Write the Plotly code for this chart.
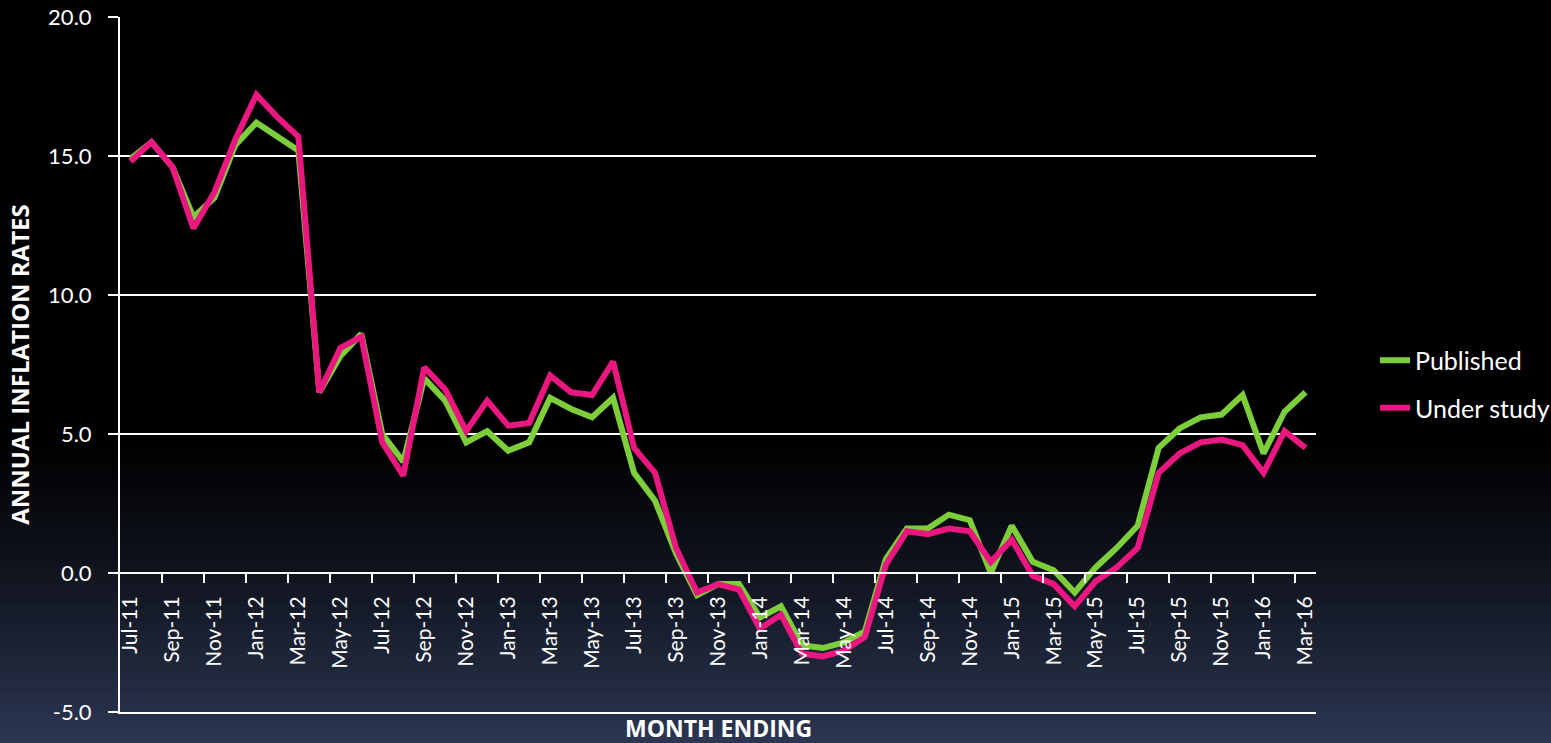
import plotly.graph_objects as go

# Month-ending labels, Jul-2011 .. Mar-2016
months = [
    "Jul-11", "Aug-11", "Sep-11", "Oct-11", "Nov-11", "Dec-11",
    "Jan-12", "Feb-12", "Mar-12", "Apr-12", "May-12", "Jun-12",
    "Jul-12", "Aug-12", "Sep-12", "Oct-12", "Nov-12", "Dec-12",
    "Jan-13", "Feb-13", "Mar-13", "Apr-13", "May-13", "Jun-13",
    "Jul-13", "Aug-13", "Sep-13", "Oct-13", "Nov-13", "Dec-13",
    "Jan-14", "Feb-14", "Mar-14", "Apr-14", "May-14", "Jun-14",
    "Jul-14", "Aug-14", "Sep-14", "Oct-14", "Nov-14", "Dec-14",
    "Jan-15", "Feb-15", "Mar-15", "Apr-15", "May-15", "Jun-15",
    "Jul-15", "Aug-15", "Sep-15", "Oct-15", "Nov-15", "Dec-15",
    "Jan-16", "Feb-16", "Mar-16",
]

published = [
    14.9, 15.5, 14.6, 12.8, 13.5, 15.4,
    16.2, 15.7, 15.2, 6.5, 7.8, 8.6,
    5.0, 4.0, 7.0, 6.2, 4.7, 5.1,
    4.4, 4.7, 6.3, 5.9, 5.6, 6.3,
    3.6, 2.6, 0.7, -0.8, -0.4, -0.4,
    -1.6, -1.2, -2.6, -2.7, -2.5, -2.1,
    0.5, 1.6, 1.6, 2.1, 1.9, 0.0,
    1.7, 0.4, 0.1, -0.7, 0.2, 0.9,
    1.7, 4.5, 5.2, 5.6, 5.7, 6.4,
    4.3, 5.8, 6.5,
]

under_study = [
    14.8, 15.5, 14.6, 12.4, 13.7, 15.6,
    17.2, 16.4, 15.7, 6.5, 8.1, 8.5,
    4.7, 3.5, 7.4, 6.6, 5.1, 6.2,
    5.3, 5.4, 7.1, 6.5, 6.4, 7.6,
    4.5, 3.6, 0.9, -0.7, -0.4, -0.6,
    -2.0, -1.5, -2.9, -3.0, -2.8, -2.3,
    0.3, 1.5, 1.4, 1.6, 1.5, 0.4,
    1.2, -0.1, -0.4, -1.2, -0.3, 0.2,
    0.9, 3.6, 4.3, 4.7, 4.8, 4.6,
    3.6, 5.1, 4.5,
]

y_ticks = [-5, 0, 5, 10, 15, 20]
y_tick_text = ["-5.0", "0.0", "5.0", "10.0", "15.0", "20.0"]

x_idx = list(range(len(months)))
label_idx = x_idx[::2]
label_text = months[::2]
boundary_ticks = [i + 1.5 for i in range(0, len(months) - 2, 2)]

Y_MIN, Y_MAX = -5, 20
W, H = 1551, 743
M_L, M_R, M_T, M_B = 120, 235, 17, 31
PW, PH = W - M_L - M_R, H - M_T - M_B

GREEN = "#7DCE3A"
PINK = "#E9177F"
FONT = "Lato"

fig = go.Figure()
fig.add_trace(go.Scatter(
    x=x_idx, y=published, mode="lines", name="Published",
    line=dict(color=GREEN, width=6), legendgroup="a",
))
fig.add_trace(go.Scatter(
    x=x_idx, y=under_study, mode="lines", name="Under study",
    line=dict(color=PINK, width=6), legendgroup="b",
))
# carrier trace so the month-label axis at y=0 gets built
fig.add_trace(go.Scatter(
    x=[x_idx[0], x_idx[-1]], y=[0, 0], xaxis="x2", mode="markers",
    marker=dict(opacity=0), showlegend=False, hoverinfo="skip",
))

# dark vertical gradient behind the whole figure
shapes = []
top_px, bot_px = 430, H
n = 64
c0 = (0, 0, 0)
c1 = (44, 55, 83)
for k in range(n):
    p0 = top_px + (bot_px - top_px) * k / n
    p1 = top_px + (bot_px - top_px) * (k + 1) / n + 0.6
    t = ((k + 0.5) / n) ** 1.25
    col = "rgb(%d,%d,%d)" % tuple(round(a + (b - a) * t) for a, b in zip(c0, c1))
    shapes.append(dict(
        type="rect", xref="paper", yref="paper", layer="below",
        x0=-M_L / PW, x1=(W - M_L) / PW,
        y0=(H - M_B - p1) / PH, y1=(H - M_B - p0) / PH,
        fillcolor=col, line=dict(width=0),
    ))

fig.update_layout(
    width=W, height=H,
    margin=dict(l=M_L, r=M_R, t=M_T, b=M_B, autoexpand=False),
    paper_bgcolor="black",
    plot_bgcolor="rgba(0,0,0,0)",
    shapes=shapes,
    font=dict(family=FONT, color="white", size=20),
    xaxis=dict(
        range=[-0.5, len(months) - 0.5],
        showticklabels=False, ticks="", showgrid=False, zeroline=False,
        showline=True, linecolor="white", linewidth=2,
        fixedrange=True,
    ),
    xaxis2=dict(
        overlaying="x", anchor="free", side="bottom",
        position=(0 - Y_MIN) / (Y_MAX - Y_MIN),
        range=[-0.5, len(months) - 0.5],
        tickmode="array", tickvals=label_idx, ticktext=label_text,
        tickangle=-90, ticks="", ticklabelstandoff=14,
        tickfont=dict(family=FONT, size=21, color="white"),
        minor=dict(tickmode="array", tickvals=boundary_ticks, ticks="outside",
                   ticklen=9, tickwidth=2, tickcolor="white", showgrid=False),
        showgrid=False, zeroline=False,
        showline=True, linecolor="white", linewidth=2,
    ),
    yaxis=dict(
        range=[Y_MIN, Y_MAX], tickmode="array",
        tickvals=y_ticks, ticktext=y_tick_text,
        showgrid=True, gridcolor="white", gridwidth=2, zeroline=False,
        showline=True, linecolor="white", linewidth=2,
        ticks="outside", ticklen=10, tickwidth=2, tickcolor="white",
        ticklabelstandoff=12,
        tickfont=dict(family=FONT, size=22, color="white"),
        title=dict(text="<b>ANNUAL INFLATION RATES</b>", standoff=12,
                   font=dict(family="Open Sans", size=24, color="white")),
        fixedrange=True,
    ),
    annotations=[dict(
        text="<b>MONTH ENDING</b>", xref="paper", yref="paper",
        x=0.5, y=(H - M_B - 728) / PH, xanchor="center", yanchor="middle",
        showarrow=False, borderpad=0,
        font=dict(family="Open Sans", size=23, color="white"),
    )],
    legend=dict(
        x=(1375 - M_L) / PW, y=(H - M_B - 384) / PH,
        xanchor="left", yanchor="middle",
        bgcolor="rgba(0,0,0,0)", borderwidth=0,
        font=dict(family=FONT, size=25, color="white"),
        tracegroupgap=12, itemwidth=30,
    ),
    showlegend=True,
)

fig.write_html("out.html")
